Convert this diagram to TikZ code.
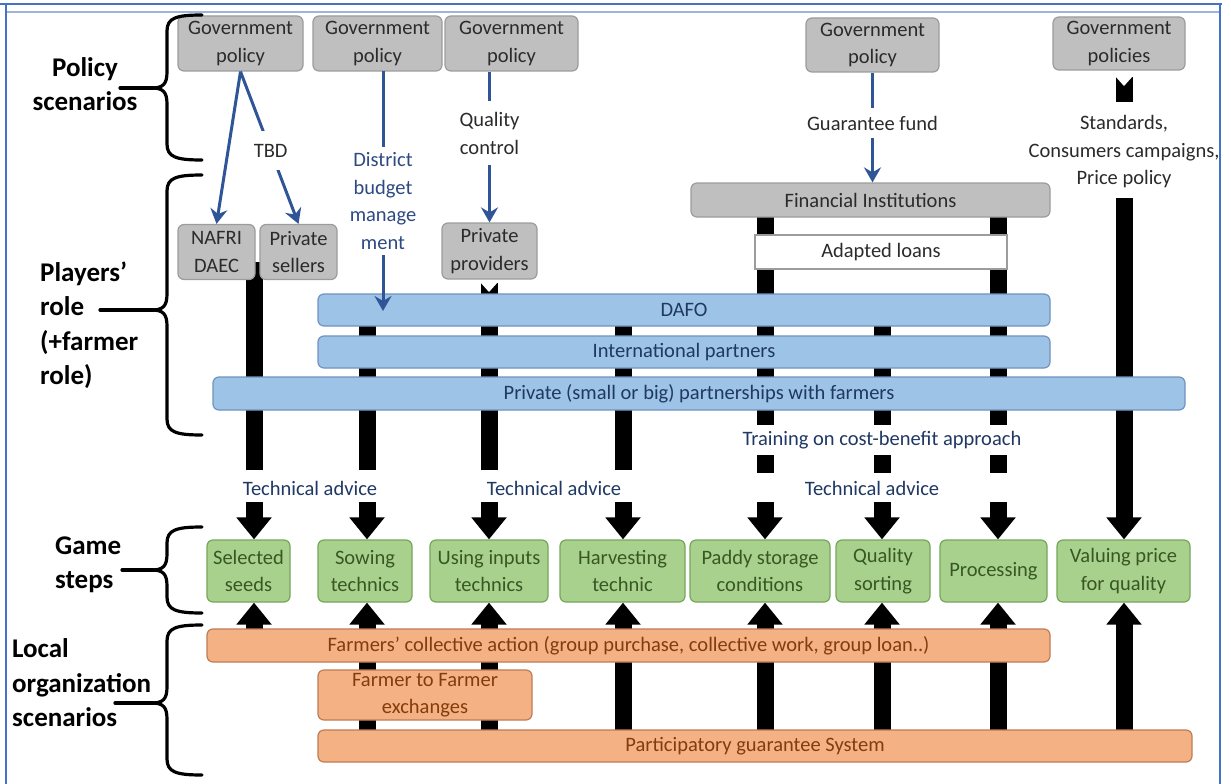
\documentclass[tikz,border=0pt]{standalone}
\usepackage{fontspec}
\setmainfont{Carlito}
\usetikzlibrary{arrows.meta}
\pgfdeclarelayer{back}
\pgfdeclarelayer{bg}
\pgfsetlayers{back,bg,main}
\definecolor{frameblue}{HTML}{4472C4}
\definecolor{framelight}{HTML}{9DB4DE}
\definecolor{grayfill}{HTML}{BFBFBF}
\definecolor{grayline}{HTML}{9C9C9C}
\definecolor{boxtext}{HTML}{2B2B2B}
\definecolor{bandblue}{HTML}{9DC3E6}
\definecolor{bandline}{HTML}{7093C0}
\definecolor{navy}{HTML}{1F3864}
\definecolor{labelblue}{HTML}{2E4A82}
\definecolor{arrowblue}{HTML}{2F5597}
\definecolor{greenfill}{HTML}{A9D18E}
\definecolor{greenline}{HTML}{76A65A}
\definecolor{greentext}{HTML}{385723}
\definecolor{orangefill}{HTML}{F4B183}
\definecolor{orangeline}{HTML}{BF7C55}
\definecolor{browntext}{HTML}{843C0C}
\newcommand\nf{\fontsize{20.5}{27.5}\selectfont}
\newcommand\lblfont{\fontsize{27}{34.5}\selectfont\bfseries}
\newcommand\mybrace[4]{%
  \draw[bracestyle] (202,#1) .. controls (176,#1) and (167,#1+3) .. (167,#1+16)
     -- (167,#3-16) .. controls (167,#3-4) and (163,#3) .. (152,#3)
     .. controls (163,#3) and (167,#3+4) .. (167,#3+16)
     -- (167,#2-16) .. controls (167,#2-3) and (176,#2) .. (202,#2);
  \draw[bracestyle] (154,#3) -- (#4,#3);
}
\tikzset{
  basebox/.style={rounded corners=6pt, inner sep=0pt, align=center, font=\nf},
  graybox/.style={basebox, fill=grayfill, draw=grayline, line width=1.2pt, text=boxtext},
  whitebox/.style={basebox, rounded corners=0pt, fill=white, draw=grayline, line width=1.2pt, text=boxtext},
  band/.style={basebox, fill=bandblue, draw=bandline, line width=1.2pt, text=navy},
  greenbox/.style={basebox, fill=greenfill, draw=greenline, line width=1.2pt, text=greentext},
  orangebox/.style={basebox, fill=orangefill, draw=orangeline, line width=1.2pt, text=browntext},
  shaft/.style={line width=17pt, draw=black},
  bigarrow/.style={shaft, -{Triangle[width=34pt,length=22pt]}},
  bluearrow/.style={draw=arrowblue, line width=3pt, -{Stealth[length=15pt,width=17pt,inset=5pt]}},
  gaplabel/.style={fill=white, inner xsep=2pt, align=center, font=\nf},
  plainlabel/.style={inner sep=0pt, align=center, font=\nf},
  lbl/.style={font=\lblfont, align=left, inner sep=0pt, text=black},
  bracestyle/.style={line width=3.2pt, draw=black, line cap=round},
}
\begin{document}
\begin{tikzpicture}[x=1pt,y=-1pt]
\useasboundingbox (0,0) rectangle (1231,784);
\begin{pgfonlayer}{back}
\fill[white] (0,0) rectangle (1231,784);
\end{pgfonlayer}

% ---- policy boxes
\node[graybox, minimum width=125pt, minimum height=55pt] (gp1) at (240.5,43.5) {Government\\policy};
\node[graybox, minimum width=129pt, minimum height=55pt] (gp2) at (377.5,43.5) {Government\\policy};
\node[graybox, minimum width=133pt, minimum height=55pt] (gp3) at (511.5,43.5) {Government\\policy};
\node[graybox, minimum width=133pt, minimum height=54pt] (gp4) at (872.5,45) {Government\\policy};
\node[graybox, minimum width=132pt, minimum height=53pt] (gp5) at (1119,43.5) {Government\\policies};

% ---- players boxes
\node[graybox, minimum width=77pt, minimum height=55pt] (nafri) at (216.5,252) {NAFRI\\DAEC};
\node[graybox, minimum width=77pt, minimum height=55pt] (ps) at (298.5,252) {Private\\sellers};
\node[graybox, minimum width=95pt, minimum height=56pt] (pp) at (489.5,251) {Private\\providers};
\node[graybox, minimum width=359pt, minimum height=34pt] (fi) at (870.5,200) {Financial Institutions};
\node[whitebox, minimum width=252pt, minimum height=34pt] (al) at (881,252) {Adapted loans};

\node[band, minimum width=732pt, minimum height=32pt] (dafo) at (684,310) {DAFO};
\node[band, minimum width=732pt, minimum height=32pt] (intl) at (684,352) {International partners};
\node[band, minimum width=972pt, minimum height=33pt] (priv) at (699,393.5) {Private (small or big) partnerships with farmers};

% ---- game steps
\node[greenbox, minimum width=83pt, minimum height=62pt] (sel) at (248.5,571) {Selected\\seeds};
\node[greenbox, minimum width=94pt, minimum height=62pt] (sow) at (365,571) {Sowing\\technics};
\node[greenbox, minimum width=118pt, minimum height=62pt] (use) at (489,571) {Using inputs\\technics};
\node[greenbox, minimum width=125pt, minimum height=62pt] (har) at (622.5,571) {Harvesting\\technic};
\node[greenbox, minimum width=140pt, minimum height=62pt] (pad) at (760,571) {Paddy storage\\conditions};
\node[greenbox, minimum width=94pt, minimum height=62pt] (qua) at (883,571) {Quality\\sorting};
\node[greenbox, minimum width=107pt, minimum height=62pt] (pro) at (993.5,571) {Processing};
\node[greenbox, minimum width=133pt, minimum height=62pt] (val) at (1123.5,571) {Valuing price\\for quality};

% ---- local organisation
\node[orangebox, minimum width=843pt, minimum height=33pt] (col) at (628.5,645.5) {Farmers’ collective action (group purchase, collective work, group loan..)};
\node[orangebox, minimum width=214pt, minimum height=50pt] (f2f) at (425,695) {Farmer to Farmer\\exchanges};
\node[orangebox, minimum width=874pt, minimum height=32pt] (pgs) at (755,746) {Participatory guarantee System};

% ---- coordinates of black arrows
\coordinate (d1a) at (254,262); \coordinate (d1b) at (254,470); \coordinate (d1c) at (254,502);
\coordinate (d2a) at (367,310); \coordinate (d2b) at (367,470); \coordinate (d2c) at (367,502);
\coordinate (d3a) at (489,283); \coordinate (d3b) at (489,470); \coordinate (d3c) at (489,502);
\coordinate (d4a) at (623,310); \coordinate (d4b) at (623,470); \coordinate (d4c) at (623,502);
\coordinate (d5a) at (765,200); \coordinate (d5b) at (765,425); \coordinate (d5c) at (765,455); \coordinate (d5d) at (765,473); \coordinate (d5e) at (765,502);
\coordinate (d6a) at (882,310); \coordinate (d6b) at (882,425); \coordinate (d6c) at (882,455); \coordinate (d6d) at (882,473); \coordinate (d6e) at (882,502);
\coordinate (d7a) at (998,200); \coordinate (d7b) at (998,425); \coordinate (d7c) at (998,455); \coordinate (d7d) at (998,473); \coordinate (d7e) at (998,502);
\coordinate (d8a) at (1124,77); \coordinate (d8b) at (1124,102); \coordinate (d8c) at (1124,198);
\coordinate (u1) at (254,640);
\coordinate (u2) at (367,746);
\coordinate (u3) at (489,746);
\coordinate (u4) at (623,746);
\coordinate (u5) at (765,746);
\coordinate (u6) at (882,746);
\coordinate (u7) at (998,746);
\coordinate (u8) at (1124,746);

\begin{pgfonlayer}{bg}
  \draw[shaft] (d1a) -- (d1b); \draw[bigarrow] (d1c) -- (d1c |- sel.north);
  \draw[shaft] (d2a) -- (d2b); \draw[bigarrow] (d2c) -- (d2c |- sow.north);
  \draw[shaft] (d3a) -- (d3b); \draw[bigarrow] (d3c) -- (d3c |- use.north);
  \draw[shaft] (d4a) -- (d4b); \draw[bigarrow] (d4c) -- (d4c |- har.north);
  \draw[shaft] (d5a) -- (d5b); \draw[shaft] (d5c) -- (d5d); \draw[bigarrow] (d5e) -- (d5e |- pad.north);
  \draw[shaft] (d6a) -- (d6b); \draw[shaft] (d6c) -- (d6d); \draw[bigarrow] (d6e) -- (d6e |- qua.north);
  \draw[shaft] (d7a) -- (d7b); \draw[shaft] (d7c) -- (d7d); \draw[bigarrow] (d7e) -- (d7e |- pro.north);
  \draw[shaft] (d8a) -- (d8b); \draw[bigarrow] (d8c) -- (d8c |- val.north);
  \fill[white] (480,282) -- (498,282) -- (489,292) -- cycle;
  \fill[white] (1115,76) -- (1133,76) -- (1124,86) -- cycle;
  \draw[bigarrow] (u1) -- (u1 |- sel.south);
  \draw[bigarrow] (u2) -- (u2 |- sow.south);
  \draw[bigarrow] (u3) -- (u3 |- use.south);
  \draw[bigarrow] (u4) -- (u4 |- har.south);
  \draw[bigarrow] (u5) -- (u5 |- pad.south);
  \draw[bigarrow] (u6) -- (u6 |- qua.south);
  \draw[bigarrow] (u7) -- (u7 |- pro.south);
  \draw[bigarrow] (u8) -- (u8 |- val.south);
\end{pgfonlayer}

% ---- blue arrows
\coordinate (a3s) at (383,71);
\coordinate (a3e) at (383,311);
\draw[bluearrow] (gp1.south) -- (nafri.north);
\draw[bluearrow] (gp1.south) -- node[gaplabel, pos=0.52, inner ysep=13pt, text=boxtext] (tbd) {TBD} (ps.north);
\draw[bluearrow] (a3s) -- (a3e);
\node[gaplabel, inner ysep=6pt, text=labelblue] (dbm) at (383,201) {District\\budget\\manage\\ment};
\draw[bluearrow] (pp.north |- gp3.south) -- node[gaplabel, pos=0.41, inner ysep=11pt, text=boxtext] (qc) {Quality\\control} (pp.north);
\draw[bluearrow] (gp4.south) -- node[gaplabel, pos=0.46, inner ysep=8pt, text=boxtext] (gf) {Guarantee fund} (gp4.south |- fi.north);

% ---- free labels
\node[plainlabel, text=boxtext] (std) at (1124,152) {Standards,\\Consumers campaigns,\\Price policy};
\node[plainlabel, text=navy] (ta1) at (310,488) {Technical advice};
\node[plainlabel, text=navy] (ta2) at (554,488) {Technical advice};
\node[plainlabel, text=navy] (ta3) at (872,488) {Technical advice};
\node[plainlabel, text=navy] (tcb) at (882,440) {Training on cost-benefit approach};

% ---- left labels and braces
\node[lbl, align=center] (lps) at (85,84) {Policy\\scenarios};
\node[lbl, anchor=west] (lpr) at (40,325) {Players’\\role\\(+farmer\\role)};
\node[lbl, anchor=west] (lgs) at (55,565) {Game\\steps};
\node[lbl, anchor=west] (llo) at (12,683) {Local\\organization\\scenarios};
\mybrace{15}{160}{88}{120}
\mybrace{175}{435}{310}{100}
\mybrace{527}{613}{570}{122}
\mybrace{625}{775}{703}{115}

% ---- frame
\draw[frameblue, line width=2.5pt] (0,4) -- (1222,4);
\draw[framelight, line width=1.5pt] (6,12) -- (1220,12);
\draw[frameblue, line width=2pt] (6,4) -- (6,784);
\draw[frameblue, line width=2pt] (1220,4) -- (1220,784);
\end{tikzpicture}
\end{document}
